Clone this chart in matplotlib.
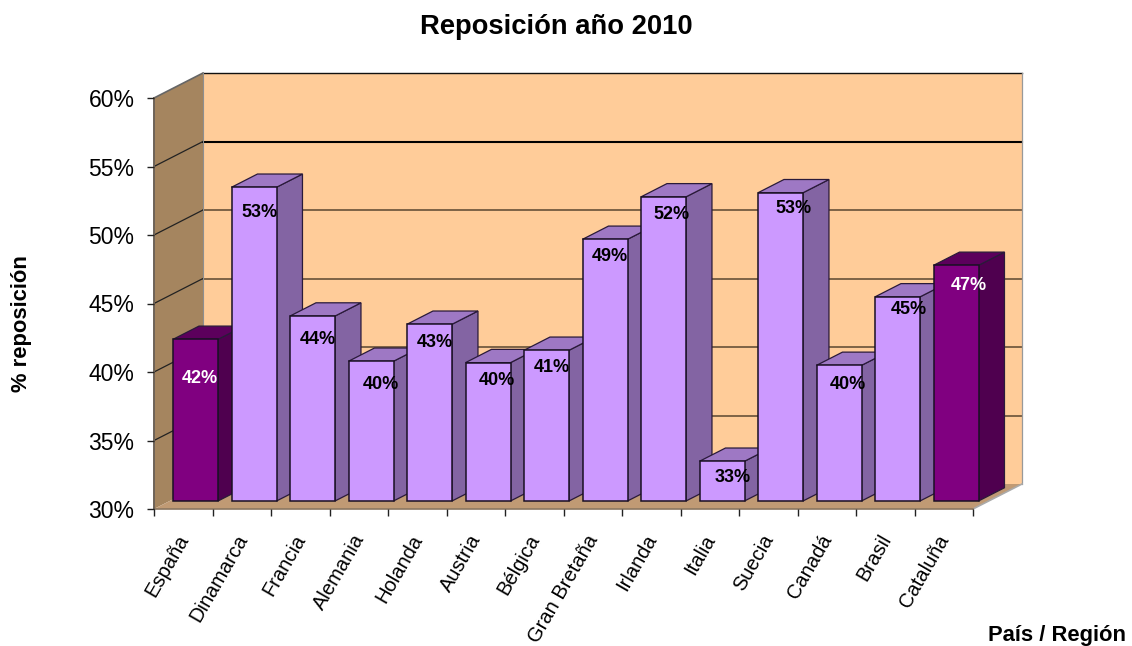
import matplotlib
matplotlib.use('Agg')
import matplotlib.pyplot as plt
from matplotlib.patches import Polygon

plt.rcParams['font.family'] = ['Liberation Sans', 'DejaVu Sans']

paises = ['España', 'Dinamarca', 'Francia', 'Alemania', 'Holanda', 'Austria', 'Bélgica',
          'Gran Bretaña', 'Irlanda', 'Italia', 'Suecia', 'Canadá', 'Brasil', 'Cataluña']
valores = [41.8, 52.9, 43.5, 40.2, 42.9, 40.1, 41.0, 49.1, 52.2, 32.9, 52.5, 39.9, 44.9, 47.2]
destacados = ['España', 'Cataluña']
ticks_y = [30, 35, 40, 45, 50, 55, 60]

# label nudges in pixels from the top centre of each bar front
nudge_x = [4.5, 5.5, 5, 9.5, 5, 8.5, 5, 4.5, 8, 10.5, 13, 8.5, 11, 12.5]
nudge_y = [-39, -25, -23, -23, -18, -18, -17, -17, -18, -16, -16, -19, -13, -20]

W, H = 1132, 646
fig = plt.figure(figsize=(W / 100, H / 100), dpi=100)
ax = fig.add_axes([154 / W, (H - 509) / H, 819 / W, 411 / H])
ax.set_xlim(0, len(paises))
ax.set_ylim(30, 60)
ax.patch.set_visible(False)
for s in ax.spines.values():
    s.set_visible(False)

# depth of the fake 3d box, in data units
DX = 49 / (819 / len(paises))
DY = 25 / (411 / 30)
n = len(paises)


def proj(x, y, f):
    return (x + f * DX, y + f * DY)


def poly(pts, color, edge='none', lw=0, z=1):
    ax.add_patch(Polygon(pts, closed=True, facecolor=color, edgecolor=edge, linewidth=lw,
                         zorder=z, clip_on=False, joinstyle='miter'))


# walls and floor
poly([proj(0, 30, 1), proj(n, 30, 1), proj(n, 60, 1), proj(0, 60, 1)], '#FFCC99', z=1)
poly([proj(0, 30, 0), proj(0, 30, 1), proj(0, 60, 1), proj(0, 60, 0)], '#A5855F', z=1.1)
poly([proj(0, 30, 0), proj(n, 30, 0), proj(n, 30, 1), proj(0, 30, 1)], '#C09A74', z=1.1)

for t in ticks_y[1:-1]:
    strong = t == 55
    col = 'black' if strong else '#5A4630'
    lw = 1.5 if strong else 1.1
    a, b = proj(0, t, 1), proj(n, t, 1)
    ax.plot([a[0], b[0]], [a[1], b[1]], color=col, lw=lw, zorder=1.5, clip_on=False)
    a0 = proj(0, t, 0)
    ax.plot([a0[0], a[0]], [a0[1], a[1]], color='#222222', lw=0.9, zorder=1.5, clip_on=False)

a, b = proj(0, 60, 1), proj(n, 60, 1)
ax.plot([a[0], b[0]], [a[1], b[1]], color='#111111', lw=1.0, zorder=1.5, clip_on=False)
a0 = proj(0, 60, 0)
ax.plot([a0[0], a[0]], [a0[1], a[1]], color='#666666', lw=1.2, zorder=1.5, clip_on=False)
c = proj(n, 30, 1)
ax.plot([b[0], c[0]], [b[1], c[1]], color='#999999', lw=0.9, zorder=1.5, clip_on=False)
d = proj(n, 30, 0)
ax.plot([d[0], c[0]], [d[1], c[1]], color='#AAAAAA', lw=1.2, zorder=1.5, clip_on=False)
ax.plot([0, n], [30, 30], color='#8A7660', lw=1.2, zorder=1.5, clip_on=False)
e = proj(0, 30, 1)
ax.plot([0, 0], [30, 60], color='#6E6358', lw=1.4, zorder=1.5, clip_on=False)
ax.plot([e[0], e[0]], [e[1], a[1]], color='#8F8F8F', lw=0.8, zorder=1.5, clip_on=False)

# bars
F0, F1 = 0.32, 0.85
ANCHO = 45 / (819 / n)
for i, (p, v) in enumerate(zip(paises, valores)):
    if p in destacados:
        c_front, c_side, c_top, c_txt = '#800080', '#4F004F', '#5C005C', 'white'
    else:
        c_front, c_side, c_top, c_txt = '#CC99FF', '#8364A3', '#9E78C4', 'black'
    z = 3 + i
    x0 = i + (19 / (819 / n))
    yb = 30 + F0 * DY
    yt = v + F0 * DY
    x1 = x0 + ANCHO
    ddx = (F1 - F0) * DX
    ddy = (F1 - F0) * DY
    poly([(x1, yb), (x1 + ddx, yb + ddy), (x1 + ddx, yt + ddy), (x1, yt)], c_side, '#2A1A3A', 0.9, z)
    poly([(x0, yt), (x1, yt), (x1 + ddx, yt + ddy), (x0 + ddx, yt + ddy)], c_top, '#2A1A3A', 0.9, z)
    ax.bar(x0, v - 30, width=ANCHO, bottom=yb, align='edge', color=c_front,
           edgecolor='#1A1024', linewidth=1.1, zorder=z + 0.1, clip_on=False)
    ax.annotate('%.0f%%' % round(v + 0.1), xy=(x0 + ANCHO / 2, yt),
                xytext=(nudge_x[i], nudge_y[i]), textcoords='offset pixels',
                ha='center', va='center', fontsize=13, fontweight='bold',
                color=c_txt, zorder=30, annotation_clip=False)

# axes
ax.set_yticks(ticks_y)
ax.set_yticklabels(['%d%%' % t for t in ticks_y], fontsize=16.5)
ax.tick_params(axis='y', length=5, width=1, pad=9, color='#222222')
ax.set_xticks(range(n + 1))
ax.set_xticklabels([])
ax.tick_params(axis='x', which='major', length=5, width=1, color='#222222')
ax.set_xticks([i + 0.38 for i in range(n)], minor=True)
ax.set_xticklabels(paises, minor=True, rotation=60, ha='right', va='top',
                   rotation_mode='anchor', fontsize=14.5)
ax.tick_params(axis='x', which='minor', length=0, pad=16)

fig.text(556 / W, 1 - 27 / H, 'Reposición año 2010', ha='center', va='center',
         fontsize=19.7, fontweight='bold')
fig.text(22 / W, 1 - 324 / H, '% reposición', rotation=90, ha='center', va='center',
         fontsize=15.8, fontweight='bold')
fig.text(1126 / W, 1 - 635 / H, 'País / Región', ha='right', va='center',
         fontsize=15.8, fontweight='bold')

fig.savefig('out.png', dpi=100)
